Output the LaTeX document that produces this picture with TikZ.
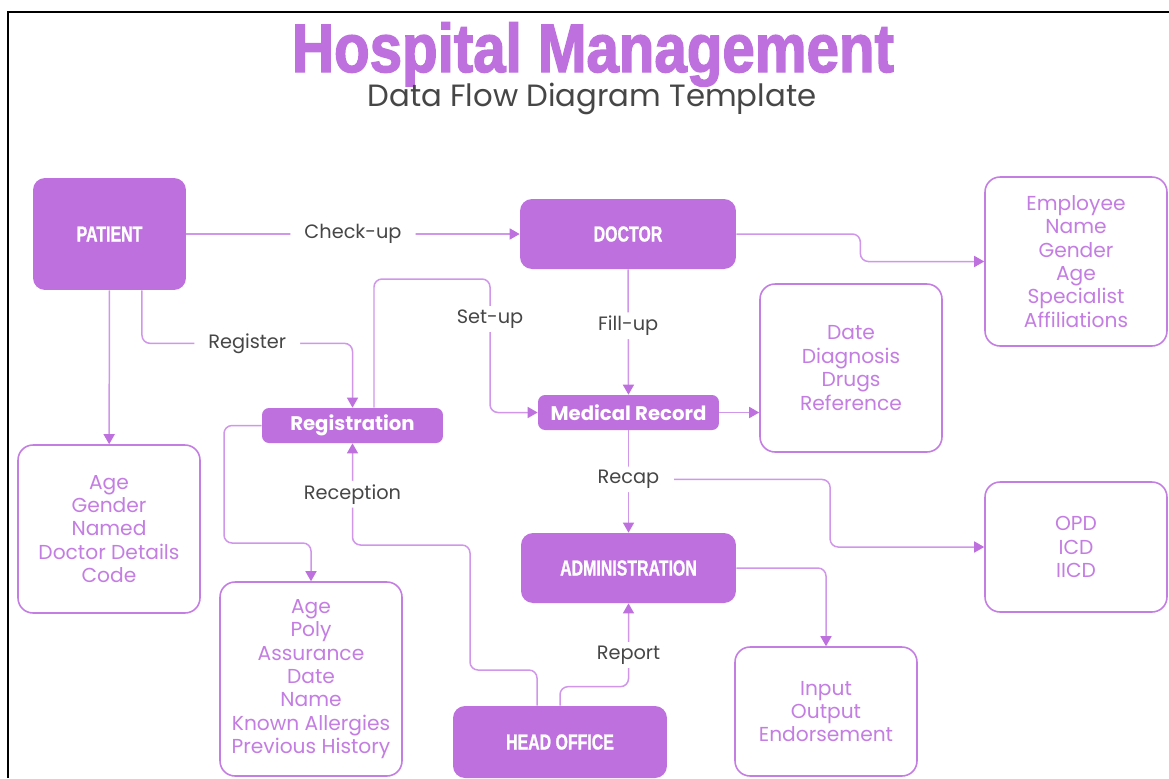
\documentclass[tikz,border=0pt]{standalone}
\usepackage{fontspec}
\setmainfont{Poppins}
\newfontfamily\titlefont[FakeStretch=0.85,FakeBold=2]{Liberation Sans}
\newfontfamily\boxfont[FakeStretch=0.73,FakeBold=1]{Liberation Sans}
\usetikzlibrary{positioning}
\usetikzlibrary{arrows.meta}

\begin{document}
\begin{tikzpicture}[x=0.02cm, y=-0.02cm]
    \useasboundingbox (0,0) rectangle (1169,778);

    % Farben
    \definecolor{Hosp_purple}{RGB}{190,113,222}
    \definecolor{Hosp_line}{RGB}{208,150,234}
    \definecolor{Hosp_text}{RGB}{196,125,226}
    \definecolor{Hosp_gray}{RGB}{70,70,70}

    \tikzset{
        entity/.style={rectangle, rounded corners=0.24cm, fill=Hosp_purple, text=white, font=\boxfont\bfseries\fontsize{12.4}{14}\selectfont},
        process/.style={rectangle, rounded corners=0.14cm, fill=Hosp_purple, text=white, font=\bfseries\fontsize{11.2}{13}\selectfont, minimum width=3.62cm, minimum height=0.7cm},
        store/.style={rectangle, rounded corners=0.3cm, draw=Hosp_text, line width=0.9pt, fill=white, text=Hosp_text, align=center, minimum width=3.64cm, font=\fontsize{11.5}{13.3}\selectfont},
        flow/.style={draw=Hosp_line, line width=0.85pt, rounded corners=0.16cm, -{Triangle[width=0.22cm, length=0.2cm, color=Hosp_purple]}},
        lbl/.style={fill=white, text=Hosp_gray, font=\fontsize{11}{13}\selectfont, inner xsep=8pt, inner ysep=2pt}
    }

    % Rahmen
    \draw[line width=1.4pt] (8,778) -- (8,12) -- (1169,12);

    % Titel
    \node[anchor=base, text=Hosp_purple, font=\titlefont\bfseries\fontsize{39}{40}\selectfont] (title) at (593,72) {Hospital Management};
    \node[anchor=base, text=Hosp_gray, font=\fontsize{17.5}{20}\selectfont] (subtitle) at (592,106) {Data Flow Diagram Template};

    % Entitaeten
    \node[entity, minimum width=3.06cm, minimum height=2.24cm] (patient) at (109.5,234) {PATIENT};
    \node[entity, minimum width=4.32cm, minimum height=1.4cm] (doctor) at (628,234) {DOCTOR};
    \node[entity, minimum width=4.3cm, minimum height=1.4cm] (admin) at (628.5,568) {ADMINISTRATION};
    \node[entity, minimum width=4.28cm, minimum height=1.44cm] (headoffice) at (560,742) {HEAD OFFICE};

    % Prozesse
    \node[process] (registration) at (352.5,425.5) {Registration};
    \node[process] (medrecord) at (628.5,412.5) {Medical Record};

    % Datenspeicher
    \node[store, minimum height=3.38cm] (empinfo) at (1076,261.5) {Employee\\Name\\Gender\\Age\\Specialist\\Affiliations};
    \node[store, minimum height=3.36cm] (recinfo) at (851,368) {Date\\Diagnosis\\Drugs\\Reference};
    \node[store, minimum height=3.36cm] (patinfo) at (109,529) {Age\\Gender\\Named\\Doctor Details\\Code};
    \node[store, minimum height=3.88cm] (reginfo) at (311,679) {Age\\Poly\\Assurance\\Date\\Name\\Known Allergies\\Previous History};
    \node[store, minimum height=2.58cm] (adminfo) at (826,711.5) {Input\\Output\\Endorsement};
    \node[store, minimum height=2.6cm] (opdinfo) at (1076,547) {OPD\\ICD\\IICD};

    % Verbindungen
    \draw[flow] (patient) -- node[lbl] {Check-up} (doctor);
    \draw[flow] (doctor.east) -- ++(124,0) |- (empinfo.west);
    \draw[flow] (doctor) -- node[lbl, pos=0.45] {Fill-up} (medrecord);
    \draw[flow] (medrecord.east) -- (medrecord.east -| recinfo.west);
    \draw[flow] (medrecord) -- node[lbl, pos=0.48] (recap) {Recap} (admin);
    \draw[flow] (recap.east) -- ++(156,0) |- (opdinfo.west);
    \draw[flow] (patient) -- (patinfo);
    \draw[flow] ([xshift=0.65cm]patient.south) -- ++(0,53) -| node[lbl, pos=0.25] {Register} (registration.north);
    \draw[flow] ([xshift=0.43cm]registration.north) |- (490,279) |- node[lbl, pos=0.15] {Set-up} (medrecord.west);
    \draw[flow] (registration.west) -| (224,543) -| (reginfo.north);
    \draw[flow] ([xshift=-0.46cm]headoffice.north) |- (470,670) -- (470,545) -| node[lbl, pos=0.75] {Reception} (registration.south);
    \draw[flow] (headoffice.north) -- ++(0,-19) -| node[lbl, pos=0.69] {Report} (admin.south);
    \draw[flow] (admin.east) -| (adminfo.north);

\end{tikzpicture}
\end{document}
